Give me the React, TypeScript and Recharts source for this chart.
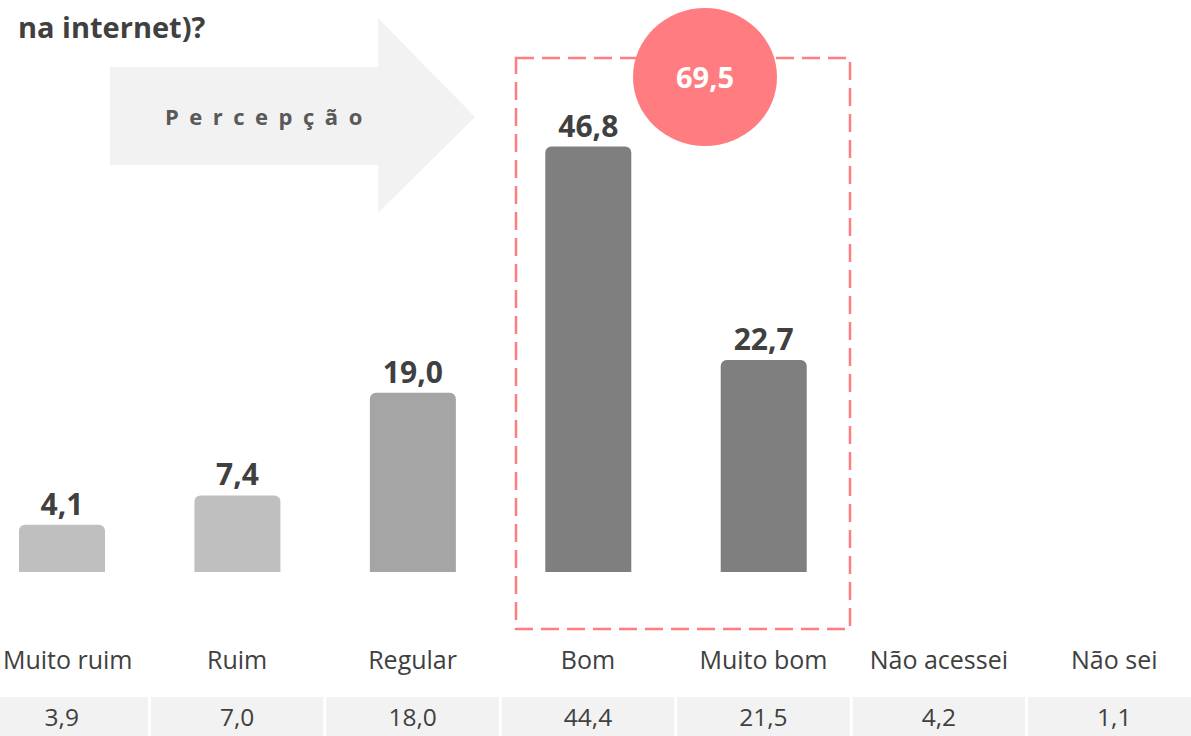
import React from "react";
import { BarChart, Bar, XAxis, YAxis, Cell, LabelList } from "recharts";

const categories = ["Muito ruim", "Ruim", "Regular", "Bom", "Muito bom", "Não acessei", "Não sei"];
const barValues: (number | null)[] = [4.1, 7.4, 19.0, 46.8, 22.7, null, null];
const tableValues = [3.9, 7.0, 18.0, 44.4, 21.5, 4.2, 1.1];
const barColors = ["#BFBFBF", "#BFBFBF", "#A5A5A5", "#7F7F7F", "#7F7F7F", "#7F7F7F", "#7F7F7F"];
const highlighted = ["Bom", "Muito bom"];

// bars in the original start a little below the zero line
const BASE = -1.25;

const data = categories.map((name, i) => ({
  name,
  value: barValues[i],
  range: barValues[i] == null ? null : [BASE, barValues[i] as number],
  table: tableValues[i],
}));

const highlightTotal = data
  .filter((d) => highlighted.includes(d.name))
  .reduce((s, d) => s + (d.value ?? 0), 0);

const fmt = (v: number) => v.toFixed(1).replace(".", ",");
const FONT = "'Open Sans', sans-serif";

function CategoryTick(props: any) {
  const { x, y, payload, index } = props;
  const band = 175.4;
  // first label hugs the left edge in the original
  const lx = index === 0 ? x + 6 : x;
  return (
    <g>
      <text x={lx} y={y + 89} textAnchor="middle" fontFamily={FONT} fontSize={25} fill="#404040">
        {payload.value}
      </text>
      <rect x={x - band / 2 + 1.5} y={y + 117} width={band - 3} height={45} fill="#F2F2F2" />
      <text x={x} y={y + 146} textAnchor="middle" fontFamily={FONT} fontSize={24.5} fill="#404040">
        {fmt(tableValues[index])}
      </text>
    </g>
  );
}

function ValueLabel(props: any) {
  const { x, y, width, value } = props;
  if (value == null) return null;
  return (
    <text
      x={x + width / 2}
      y={y - 10}
      textAnchor="middle"
      fontFamily={FONT}
      fontWeight={700}
      fontSize={30}
      fill="#404040"
    >
      {fmt(value)}
    </text>
  );
}

export default function App() {
  return (
    <div
      style={{
        position: "absolute",
        left: 0,
        top: 0,
        width: 1191,
        height: 736,
        overflow: "hidden",
        background: "#fff",
      }}
    >
      <svg width={1191} height={736} style={{ position: "absolute", left: 0, top: 0 }}>
        <text x={18} y={38} fontFamily={FONT} fontWeight={700} fontSize={29} fill="#404040">
          na internet)?
        </text>
        <polygon points="110,67 378,67 378,18 475,117 378,213 378,165 110,165" fill="#F2F2F2" />
        <text
          x={165}
          y={125}
          fontFamily={FONT}
          fontWeight={700}
          fontSize={22}
          letterSpacing={10.5}
          fill="#595959"
        >
          Percepção
        </text>
      </svg>
      <div style={{ position: "absolute", left: -26, top: 0 }}>
        <BarChart
          width={1228}
          height={736}
          data={data}
          margin={{ top: 66, right: 0, bottom: 134, left: 0 }}
          barCategoryGap={0}
        >
          <XAxis
            dataKey="name"
            axisLine={false}
            tickLine={false}
            interval={0}
            height={30}
            tick={<CategoryTick />}
          />
          <YAxis hide domain={[BASE, 55.9]} />
          <Bar dataKey="range" barSize={86} radius={[6, 6, 0, 0]} isAnimationActive={false}>
            {data.map((d, i) => (
              <Cell key={d.name} fill={barColors[i]} />
            ))}
            <LabelList dataKey="value" content={<ValueLabel />} />
          </Bar>
        </BarChart>
      </div>
      <svg
        width={1191}
        height={736}
        style={{ position: "absolute", left: 0, top: 0, pointerEvents: "none" }}
      >
        <rect
          x={516}
          y={58}
          width={334}
          height={571}
          fill="none"
          stroke="#FF7C80"
          strokeWidth={2.5}
          strokeDasharray="18 8"
        />
        <ellipse cx={705} cy={77} rx={72} ry={69} fill="#FF7C80" />
        <text
          x={705}
          y={88}
          textAnchor="middle"
          fontFamily={FONT}
          fontWeight={700}
          fontSize={29}
          fill="#fff"
        >
          {fmt(highlightTotal)}
        </text>
      </svg>
    </div>
  );
}
